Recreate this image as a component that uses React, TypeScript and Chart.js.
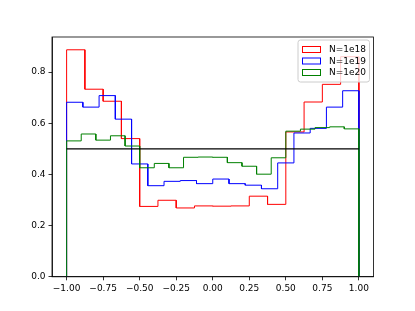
import React, { useEffect, useRef } from "react";
import { Chart, registerables } from "chart.js";

Chart.register(...registerables);

const seriesLabels = ["N=1e18", "N=1e19", "N=1e20"];
const seriesColors = ["#ff0000", "#0000ff", "#008000"];

const red1e18 = [0.887, 0.733, 0.686, 0.54, 0.275, 0.299, 0.269, 0.277, 0.276, 0.277, 0.315, 0.283, 0.566, 0.683, 0.752, 0.86];
const blue1e19 = [0.682, 0.663, 0.708, 0.616, 0.441, 0.356, 0.373, 0.376, 0.364, 0.382, 0.364, 0.358, 0.344, 0.445, 0.562, 0.58, 0.663, 0.727];
const green1e20 = [0.531, 0.558, 0.534, 0.551, 0.511, 0.426, 0.443, 0.426, 0.467, 0.468, 0.467, 0.446, 0.432, 0.401, 0.465, 0.569, 0.577, 0.583, 0.586, 0.578];

const rangeMin = -1;
const rangeMax = 1;
const referenceLevel = 0.5;

const xTicks = [-1, -0.75, -0.5, -0.25, 0, 0.25, 0.5, 0.75, 1];
const yTicks = [0, 0.2, 0.4, 0.6, 0.8];
const xLimits = [-1.1, 1.1];
const yLimits = [0, 0.937];

function stepPoints(values: number[]) {
  const n = values.length;
  const w = (rangeMax - rangeMin) / n;
  const pts: { x: number; y: number }[] = [{ x: rangeMin, y: 0 }];
  values.forEach((v, i) => {
    pts.push({ x: rangeMin + i * w, y: v });
    pts.push({ x: rangeMin + (i + 1) * w, y: v });
  });
  pts.push({ x: rangeMax, y: 0 });
  return pts;
}

const FONT = "'DejaVu Sans', sans-serif";

const framePlugin = {
  id: "frameAndLegend",
  afterDraw(chart: any) {
    const { ctx, chartArea } = chart;
    const { left, top, right, bottom } = chartArea;
    ctx.save();
    ctx.strokeStyle = "#000";
    ctx.lineWidth = 0.8;
    ctx.strokeRect(left, top, right - left, bottom - top);

    // legend
    const n = seriesLabels.length;
    const bx = right - 75.5;
    const by = top + 3;
    const bw = 71.5;
    const bh = 42;
    const r = 2.5;
    ctx.beginPath();
    ctx.moveTo(bx + r, by);
    ctx.lineTo(bx + bw - r, by);
    ctx.quadraticCurveTo(bx + bw, by, bx + bw, by + r);
    ctx.lineTo(bx + bw, by + bh - r);
    ctx.quadraticCurveTo(bx + bw, by + bh, bx + bw - r, by + bh);
    ctx.lineTo(bx + r, by + bh);
    ctx.quadraticCurveTo(bx, by + bh, bx, by + bh - r);
    ctx.lineTo(bx, by + r);
    ctx.quadraticCurveTo(bx, by, bx + r, by);
    ctx.closePath();
    ctx.fillStyle = "rgba(255,255,255,0.8)";
    ctx.fill();
    ctx.strokeStyle = "#cccccc";
    ctx.lineWidth = 1;
    ctx.stroke();

    ctx.font = `9px ${FONT}`;
    ctx.textBaseline = "middle";
    ctx.textAlign = "left";
    for (let i = 0; i < n; i++) {
      const cy = by + 9.5 + i * 11.5;
      ctx.strokeStyle = seriesColors[i];
      ctx.lineWidth = 1;
      ctx.strokeRect(bx + 4.5, cy - 3, 18, 6);
      ctx.fillStyle = "#000";
      ctx.fillText(seriesLabels[i], bx + 31, cy + 0.5);
    }
    ctx.restore();
  },
};

export default function App() {
  const ref = useRef<HTMLCanvasElement | null>(null);

  useEffect(() => {
    if (!ref.current) return;
    const seriesValues = [red1e18, blue1e19, green1e20];
    const datasets: any[] = seriesValues.map((vals, i) => ({
      label: seriesLabels[i],
      data: stepPoints(vals),
      borderColor: seriesColors[i],
      borderWidth: 1,
      pointRadius: 0,
      fill: false,
      tension: 0,
      order: 3 - i,
      borderJoinStyle: "miter",
    }));
    datasets.push({
      label: "reference",
      data: [
        { x: rangeMin, y: referenceLevel },
        { x: rangeMax, y: referenceLevel },
      ],
      borderColor: "#000000",
      borderWidth: 1.4,
      pointRadius: 0,
      fill: false,
      order: 0,
    });

    const chart = new Chart(ref.current, {
      type: "line",
      data: { datasets },
      options: {
        animation: false,
        responsive: false,
        maintainAspectRatio: false,
        layout: { padding: { left: 0, top: 37, right: 41.5, bottom: 0 } },
        plugins: {
          legend: { display: false },
          tooltip: { enabled: false },
        },
        scales: {
          x: {
            type: "linear",
            min: xLimits[0],
            max: xLimits[1],
            afterBuildTicks: (scale: any) => {
              scale.ticks = xTicks.map((v) => ({ value: v }));
            },
            afterFit: (scale: any) => {
              scale.height = 34.2;
            },
            grid: {
              display: true,
              drawOnChartArea: false,
              drawTicks: true,
              tickLength: 3.5,
              color: "#000",
              lineWidth: 0.8,
            },
            border: { display: true, color: "#000", width: 0.8 },
            ticks: {
              autoSkip: false,
              maxRotation: 0,
              padding: 2.5,
              color: "#000",
              font: { family: FONT, size: 9 },
              callback: (v: any) => {
                const n = Number(v);
                return (n < 0 ? "\u2212" : "") + Math.abs(n).toFixed(2);
              },
            },
          },
          y: {
            type: "linear",
            min: yLimits[0],
            max: yLimits[1],
            afterBuildTicks: (scale: any) => {
              scale.ticks = yTicks.map((v) => ({ value: v }));
            },
            afterFit: (scale: any) => {
              scale.width = 52;
            },
            grid: {
              display: true,
              drawOnChartArea: false,
              drawTicks: true,
              tickLength: 3.5,
              color: "#000",
              lineWidth: 0.8,
            },
            border: { display: true, color: "#000", width: 0.8 },
            ticks: {
              autoSkip: false,
              padding: 3,
              color: "#000",
              font: { family: FONT, size: 9 },
              callback: (v: any) => Number(v).toFixed(1),
            },
          },
        },
      },
      plugins: [framePlugin],
    });
    return () => chart.destroy();
  }, []);

  return (
    <div style={{ position: "absolute", left: 0, top: 0, width: 415, height: 311, background: "#fff" }}>
      <canvas ref={ref} width={415} height={311} style={{ width: 415, height: 311, display: "block" }} />
    </div>
  );
}
